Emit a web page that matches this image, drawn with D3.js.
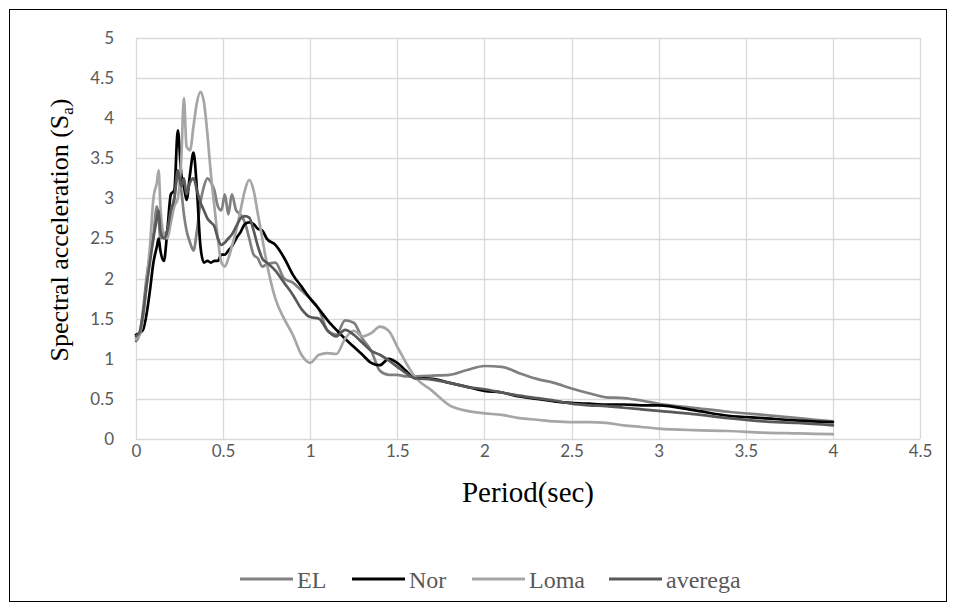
<!DOCTYPE html>
<html><head><meta charset="utf-8">
<script src="https://cdn.jsdelivr.net/npm/d3@7"></script>
<style>
html,body{margin:0;padding:0;background:#fff;}
svg{display:block;}
</style></head>
<body>
<svg id="chart" width="956" height="611"></svg>
<script>
const periods = [0,0.02,0.04,0.06,0.08,0.10,0.12,0.13,0.14,0.16,0.18,0.20,0.22,0.24,0.26,0.275,0.29,0.31,0.33,0.35,0.37,0.39,0.41,0.43,0.45,0.47,0.49,0.51,0.53,0.55,0.575,0.60,0.625,0.65,0.675,0.70,0.725,0.75,0.8,0.85,0.9,0.95,1.0,1.05,1.1,1.15,1.2,1.25,1.3,1.35,1.4,1.45,1.5,1.55,1.6,1.7,1.8,1.9,2.0,2.1,2.2,2.3,2.4,2.5,2.6,2.7,2.8,2.9,3.0,3.2,3.4,3.6,3.8,4.0];

const elValues = [1.22,1.3,1.6,2.0,2.3,2.55,2.9,2.75,2.5,2.55,2.6,2.8,3.0,3.3,3.1,2.8,2.6,2.45,2.35,2.6,2.95,3.15,3.25,3.2,3.1,2.9,2.85,3.05,2.8,3.05,2.85,2.8,2.7,2.5,2.3,2.25,2.15,2.18,2.2,2.0,1.95,1.85,1.75,1.62,1.35,1.3,1.48,1.45,1.25,1.1,0.85,0.8,0.8,0.78,0.78,0.79,0.8,0.86,0.91,0.9,0.82,0.75,0.7,0.63,0.57,0.52,0.51,0.48,0.44,0.39,0.34,0.3,0.26,0.22];

const norValues = [1.3,1.32,1.36,1.55,1.85,2.2,2.4,2.5,2.35,2.22,2.6,3.05,3.1,3.85,3.3,3.15,2.98,3.3,3.57,3.1,2.4,2.2,2.22,2.2,2.22,2.22,2.3,2.3,2.35,2.4,2.5,2.58,2.68,2.7,2.68,2.62,2.6,2.5,2.42,2.26,2.05,1.9,1.75,1.62,1.48,1.36,1.25,1.15,1.05,0.95,0.92,1.0,0.95,0.85,0.76,0.75,0.7,0.65,0.6,0.58,0.53,0.5,0.47,0.45,0.44,0.43,0.43,0.42,0.42,0.36,0.29,0.26,0.23,0.21];

const lomaValues = [1.25,1.3,1.5,1.9,2.4,3.0,3.2,3.35,2.9,2.55,2.5,2.7,2.9,3.0,3.5,4.25,3.65,3.6,3.9,4.2,4.33,4.2,3.8,3.3,2.9,2.5,2.2,2.15,2.25,2.4,2.6,2.85,3.1,3.23,3.1,2.8,2.5,2.2,1.75,1.5,1.3,1.05,0.95,1.05,1.07,1.06,1.25,1.35,1.28,1.32,1.4,1.35,1.15,0.95,0.78,0.6,0.42,0.35,0.32,0.3,0.26,0.24,0.22,0.21,0.21,0.2,0.17,0.15,0.13,0.11,0.1,0.08,0.07,0.06];

const averegaValues = [1.28,1.33,1.55,1.9,2.2,2.5,2.75,2.85,2.6,2.5,2.6,2.85,3.0,3.35,3.15,3.25,3.05,3.2,3.25,3.1,2.95,2.85,2.75,2.7,2.65,2.5,2.42,2.45,2.5,2.55,2.65,2.75,2.78,2.76,2.6,2.4,2.25,2.2,2.1,1.95,1.8,1.62,1.52,1.5,1.35,1.28,1.36,1.3,1.2,1.1,1.05,0.98,0.9,0.82,0.76,0.74,0.7,0.65,0.62,0.58,0.54,0.51,0.48,0.44,0.42,0.41,0.39,0.37,0.35,0.31,0.26,0.22,0.2,0.17];

const seriesNames = ["EL","Nor","Loma","averega"];
const seriesColors = ["#808080","#000000","#a6a6a6","#595959"];
const xTicks = [0,0.5,1,1.5,2,2.5,3,3.5,4,4.5];
const yTicks = [0,0.5,1,1.5,2,2.5,3,3.5,4,4.5,5];

const seriesValues = [elValues, norValues, lomaValues, averegaValues];

const SERIF = '"Liberation Serif"';
const SANS = 'Lato';

const svg = d3.select("#chart");
const W = 956, H = 611;
const plot = {left:136, right:920, top:38, bottom:439};

svg.append("rect").attr("x",9.5).attr("y",9.5).attr("width",W-19).attr("height",H-19)
  .attr("fill","#fff").attr("stroke","#000").attr("stroke-width",1);

const x = d3.scaleLinear().domain([0,4.5]).range([plot.left, plot.right]);
const y = d3.scaleLinear().domain([0,5]).range([plot.bottom, plot.top]);

const g = svg.append("g");
g.selectAll("line.h").data(yTicks).enter().append("line")
  .attr("x1",plot.left).attr("x2",plot.right)
  .attr("y1",d=>Math.round(y(d))+0.5).attr("y2",d=>Math.round(y(d))+0.5)
  .attr("stroke","#d9d9d9").attr("stroke-width",1.3);
g.selectAll("line.v").data(xTicks).enter().append("line")
  .attr("y1",plot.top).attr("y2",plot.bottom)
  .attr("x1",d=>Math.round(x(d))+0.5).attr("x2",d=>Math.round(x(d))+0.5)
  .attr("stroke","#d9d9d9").attr("stroke-width",1.3);

const fmt = d=>String(d);
const xAxis = d3.axisBottom(x).tickValues(xTicks).tickFormat(fmt).tickSize(0).tickPadding(6);
const yAxis = d3.axisLeft(y).tickValues(yTicks).tickFormat(fmt).tickSize(0).tickPadding(22);
const xa = svg.append("g").attr("transform",`translate(0,${plot.bottom})`).call(xAxis);
const ya = svg.append("g").attr("transform",`translate(${plot.left},0)`).call(yAxis);
[xa,ya].forEach(a=>{
  a.select(".domain").remove();
  a.selectAll("text").attr("fill","#595959").style("font-family",SANS).style("font-size","17px");
});

const line = d3.line().x((d,i)=>x(periods[i])).y(d=>y(d)).curve(d3.curveMonotoneX);
const lg = svg.append("g");
seriesValues.forEach((vals,k)=>{
  lg.append("path").datum(vals)
    .attr("d",line).attr("fill","none")
    .attr("stroke",seriesColors[k]).attr("stroke-width",2.7)
    .attr("stroke-linejoin","round").attr("stroke-linecap","round");
});

svg.append("text").attr("x",(plot.left+plot.right)/2).attr("y",502)
  .attr("text-anchor","middle").attr("fill","#000")
  .style("font-family",SERIF).style("font-size","29px")
  .text("Period(sec)");
const yt = svg.append("text").attr("transform",`translate(68,230) rotate(-90)`)
  .attr("text-anchor","middle").attr("fill","#000")
  .style("font-family",SERIF).style("font-size","26px");
yt.append("tspan").text("Spectral acceleration (S");
yt.append("tspan").style("font-size","17px").attr("dy","5").text("a");
yt.append("tspan").attr("dy","-5").text(")");

const legX = [240,352,472,609];
const leg = svg.append("g");
seriesNames.forEach((n,k)=>{
  leg.append("line").attr("x1",legX[k]).attr("x2",legX[k]+53)
    .attr("y1",579).attr("y2",579).attr("stroke",seriesColors[k]).attr("stroke-width",3);
  leg.append("text").attr("x",legX[k]+57).attr("y",588)
    .attr("fill","#595959")
    .style("font-family",SERIF).style("font-size","24px")
    .text(n);
});
</script>
</body></html>
